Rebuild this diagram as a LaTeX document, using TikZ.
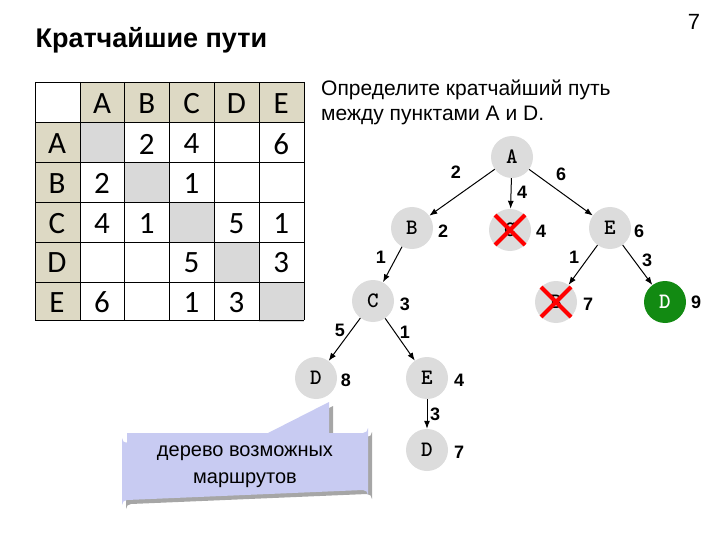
\documentclass[tikz,border=0pt]{standalone}
\usepackage{fontspec}
\setmainfont{Liberation Sans}
\newfontfamily\tabfont{Carlito}
\usetikzlibrary{arrows.meta,calc}
\definecolor{hdr}{HTML}{DDD9C4}
\definecolor{diag}{HTML}{D9D9D9}
\definecolor{nodegray}{HTML}{DCDCDC}
\definecolor{callout}{HTML}{C8CBF2}
\definecolor{dgreen}{HTML}{128A12}
\tikzset{
  tn/.style={circle,fill=nodegray,minimum size=42pt,inner sep=0pt,font=\ttfamily\bfseries\fontsize{22}{22}\selectfont},
  gn/.style={tn,fill=dgreen,text=white},
  val/.style={font=\bfseries\fontsize{18}{18}\selectfont,inner sep=1pt},
  edge/.style={-{Latex[length=8pt,width=6pt]},line width=1pt},
  cell/.style={font=\tabfont\fontsize{31}{31}\selectfont},
  xmark/.style={red,line width=4pt}
}
\begin{document}
\begin{tikzpicture}[x=1pt,y=-1pt]
\useasboundingbox (0,0) rectangle (720,540);
\node[anchor=west,font=\bfseries\fontsize{27}{27}\selectfont] (title) at (32,40) {Кратчайшие пути};
\node[font=\fontsize{22}{22}\selectfont] (pg) at (694,22) {7};
% table
\fill[hdr] (80,82) rectangle (304,122);
\fill[hdr] (35,122) rectangle (80,320);
\foreach \i/\xa/\ya in {0/80/122,1/124/162,2/169/202,3/214/242,4/259/282}
  \fill[diag] (\xa,\ya) rectangle ++(45,40);
\foreach \x in {35,80,124,169,214,259,304} \draw[line width=0.8pt] (\x,82) -- (\x,320);
\foreach \y in {82,122,162,202,242,282,320} \draw[line width=0.8pt] (35,\y) -- (304,\y);
\foreach \l [count=\k] in {A,B,C,D,E}{
  \pgfmathsetmacro\cx{80+44.8*(\k-1)+22}
  \pgfmathsetmacro\ry{122+39.6*(\k-1)+22}
  \node[cell] (h\l) at (\cx,104) {\l};
  \node[cell] (r\l) at (57,\ry) {\l};
}
\foreach \c/\r/\v in {2/1/2,3/1/4,5/1/6,1/2/2,3/2/1,1/3/4,2/3/1,4/3/5,5/3/1,3/4/5,5/4/3,1/5/6,3/5/1,4/5/3}{
  \pgfmathsetmacro\cx{80+44.8*(\c-1)+22}
  \pgfmathsetmacro\ry{122+39.6*(\r-1)+22}
  \node[cell] (v\c\r) at (\cx,\ry) {\v};
}
% text
\node[anchor=north west,align=left,font=\fontsize{21}{25}\selectfont,inner sep=0pt] (q) at (321,80) {Определите кратчайший путь\\между пунктами A и D.};
% tree
\node[tn] (A) at (512,157) {A};
\node[tn] (B) at (412,228) {B};
\node[tn] (C1) at (510,230) {C};
\node[tn] (E1) at (610,228) {E};
\node[tn] (C) at (373,301) {C};
\node[tn] (F) at (556,302) {B};
\node[gn] (DG) at (665,302) {D};
\node[tn] (D1) at (316,378) {D};
\node[tn] (E2) at (427,378) {E};
\node[tn] (D2) at (427,450) {D};
\draw[edge] (A) -- (B);
\draw[edge] (A) -- (C1);
\draw[edge] (A) -- (E1);
\draw[edge] (B) -- (C);
\draw[edge] (E1) -- (F);
\draw[edge] (E1) -- (DG);
\draw[edge] (C) -- (D1);
\draw[edge] (C) -- (E2);
\draw[edge] (E2) -- (D2);
\foreach \n in {C1,F}{
  \draw[xmark] ($(\n)+(-15,-15)$) -- ($(\n)+(15,15)$);
  \draw[xmark] ($(\n)+(15,-15)$) -- ($(\n)+(-15,15)$);
}
\node[val] (l1) at (456,172) {2};
\node[val] (l2) at (522,192) {4};
\node[val] (l3) at (561,174) {6};
\node[val] (l4) at (381,257) {1};
\node[val] (l5) at (574,257) {1};
\node[val] (l6) at (647,260) {3};
\node[val] (l7) at (340,330) {5};
\node[val] (l8) at (405,332) {1};
\node[val] (l9) at (435,414) {3};
\node[val] (vB) at (443,231) {2};
\node[val] (vC1) at (541,231) {4};
\node[val] (vE1) at (639,231) {6};
\node[val] (vC) at (405,304) {3};
\node[val] (vF) at (588,304) {7};
\node[val] (vDG) at (696,302) {9};
\node[val] (vD1) at (346,380) {8};
\node[val] (vE2) at (459,380) {4};
\node[val] (vD2) at (459,452) {7};
% callout
\coordinate (tip) at (329,402);
\fill[black!35,shift={(4,4)}]
  (127,433) -- (268,433) -- (329,402) -- (329,433) -- (363,433) arc (90:0:5) -- (368,495) arc (0:-90:5) -- (127,500) arc (270:180:5) -- (122,438) arc (180:90:5) -- cycle;
\fill[callout]
  (127,433) -- (268,433) -- (tip) -- (329,433) -- (363,433) arc (90:0:5) -- (368,495) arc (0:-90:5) -- (127,500) arc (270:180:5) -- (122,438) arc (180:90:5) -- cycle;
\node[align=center,font=\fontsize{20}{27}\selectfont] (ct) at (245,467) {дерево возможных\\маршрутов};
\end{tikzpicture}
\end{document}
